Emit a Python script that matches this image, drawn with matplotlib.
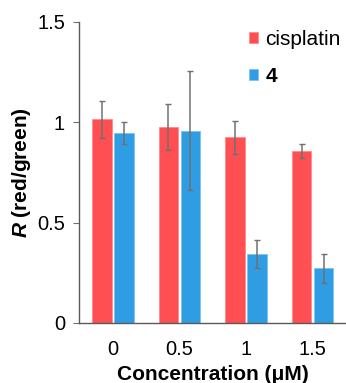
import numpy as np
import matplotlib
matplotlib.use('Agg')
import matplotlib.pyplot as plt

plt.rcParams['font.family'] = ['Liberation Sans', 'DejaVu Sans']
plt.rcParams['mathtext.fontset'] = 'custom'
plt.rcParams['mathtext.it'] = 'Liberation Sans:italic:bold'
plt.rcParams['mathtext.rm'] = 'Liberation Sans:bold'

# data
concs = ['0', '0.5', '1', '1.5']
cisplatin = [1.015, 0.975, 0.925, 0.857]
cisplatin_err = [0.093, 0.115, 0.083, 0.034]
cmpd4 = [0.945, 0.958, 0.343, 0.272]
cmpd4_err = [0.055, 0.295, 0.068, 0.072]

red = '#FF4F52'
blue = '#2F9DE3'
grey = '#707070'

fig = plt.figure(figsize=(3.46, 3.83), dpi=100)
ax = fig.add_axes([0.228, 0.157, 0.772, 0.786])

x = np.arange(len(concs))
w = 0.29
ekw = dict(ecolor=grey, elinewidth=1.1, capsize=2.2, capthick=1.0)
ax.bar(x - 0.165, cisplatin, w, yerr=cisplatin_err, color=red,
       edgecolor='#FF8A8C', linewidth=0.6, error_kw=ekw, label='cisplatin')
ax.bar(x + 0.165, cmpd4, w, yerr=cmpd4_err, color=blue,
       edgecolor='#7CC3F0', linewidth=0.6, error_kw=ekw, label='4')

ax.set_xlim(-0.51, 3.5)
ax.set_ylim(0, 1.5)
ax.set_xticks(x)
ax.set_xticklabels(concs)
ax.set_yticks([0, 0.5, 1, 1.5])
ax.set_yticklabels(['0', '0.5', '1', '1.5'])
ax.tick_params(axis='x', length=0, labelsize=14.5, pad=12)
ax.tick_params(axis='y', length=4, color=grey, labelsize=14.5, pad=6)

for s in ['top', 'right']:
    ax.spines[s].set_visible(False)
for s in ['left', 'bottom']:
    ax.spines[s].set_color('#5a5a5a')
    ax.spines[s].set_linewidth(1.0)

ax.set_xlabel('Concentration (\u03bcM)', fontsize=15, fontweight='bold', labelpad=5)
ax.set_ylabel('$R$ (red/green)', fontsize=15, fontweight='bold', labelpad=3)

leg = ax.legend(loc='upper right', bbox_to_anchor=(1.05, 1.035), frameon=False,
                fontsize=15, handlelength=0.42, handleheight=0.42,
                handletextpad=0.35, labelspacing=0.85)
leg.get_texts()[1].set_fontweight('bold')

fig.savefig('out.png', dpi=100)
